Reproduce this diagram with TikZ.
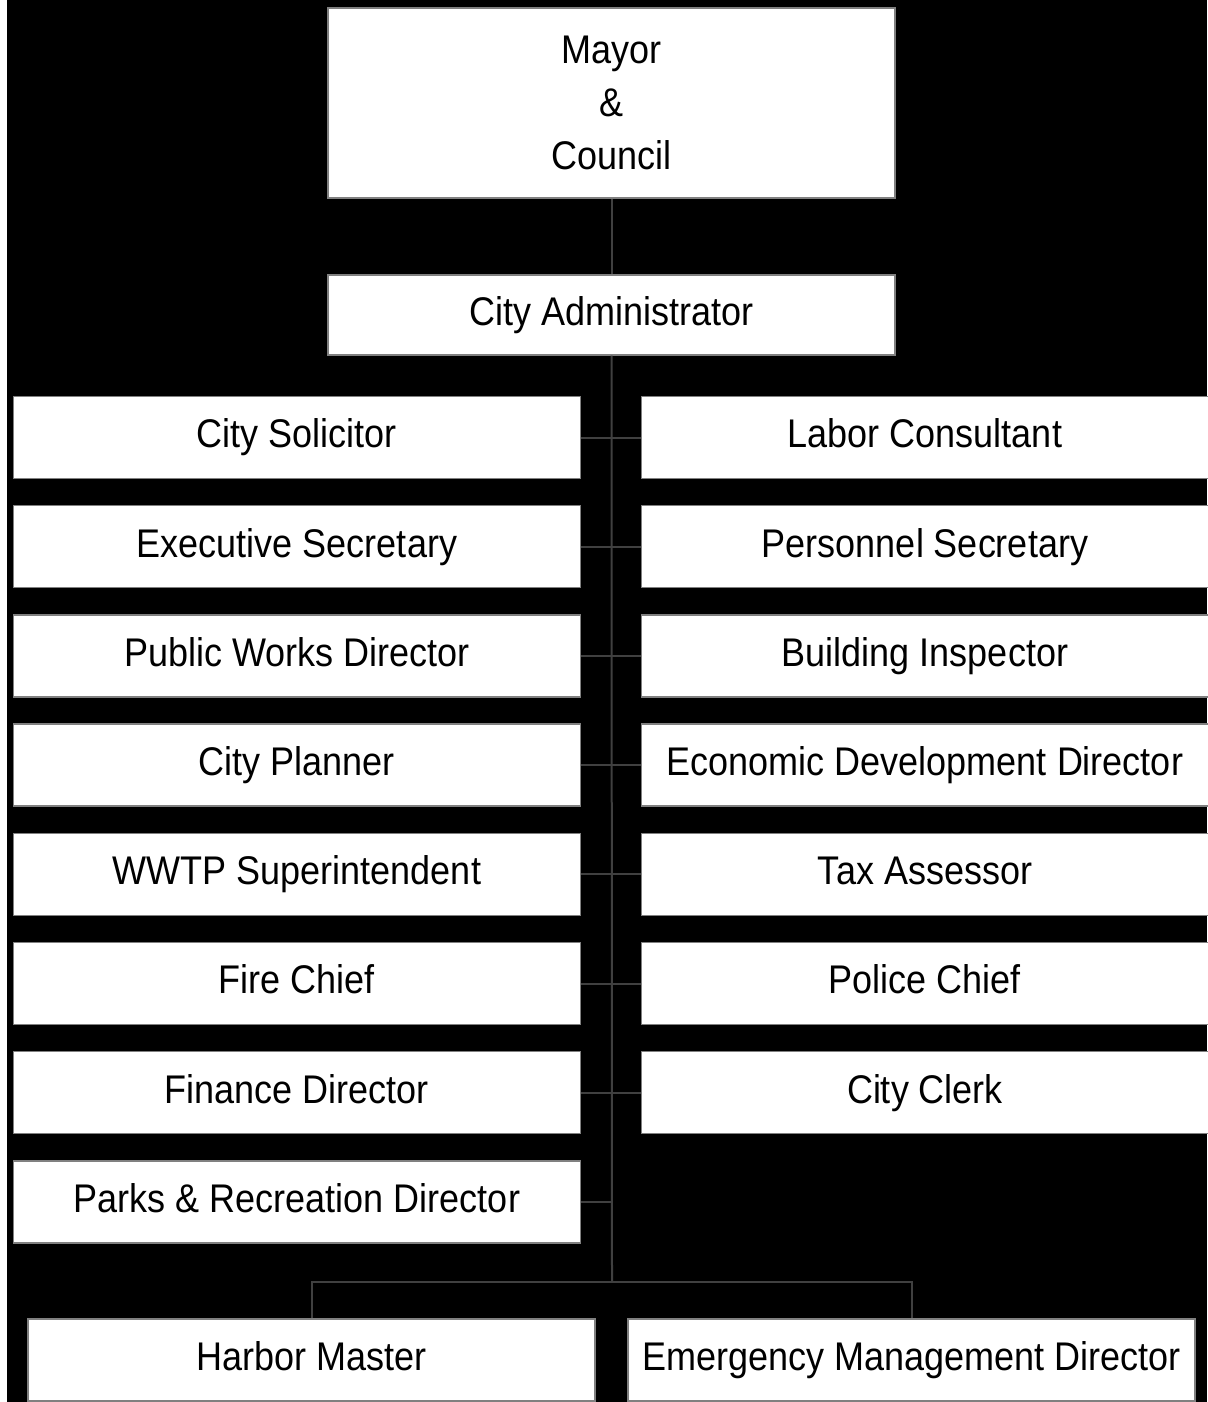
\documentclass[tikz,border=0pt]{standalone}
\usepackage{fontspec}
\setmainfont[FakeStretch=0.9]{Liberation Sans}
\tikzset{
  box/.style={draw={rgb, 255:red, 128; green, 128; blue, 128 }, line width=1.1pt, fill=white, inner sep=0pt, minimum width=425.25pt, font=\fontsize{30}{40}\selectfont, align=center},
  post/.style={box, minimum height=61.5pt, text height=21.5pt, text depth=5.8pt},
  link/.style={draw={rgb, 255:red, 64; green, 64; blue, 64 }, line width=1.5pt}
}
\begin{document}
\begin{tikzpicture}[x=0.75pt,y=0.75pt,yscale=-1,xscale=1]

\useasboundingbox (0,0) rectangle (1207,1402);
\fill [white] (0,0) rectangle (7,1402);
\fill [black] (7,0) rectangle (1207,1402);

% top
\node [box, minimum height=142.5pt] (mayor) at (611.5,103) {Mayor\\\&\\Council};
\node [post, minimum height=60pt] (admin) at (611.5,315) {City Administrator};

% left column
\node [post] (solicitor) at (297,437.5) {City Solicitor};
\node [post] (execsec) at (297,546.7) {Executive Secretary};
\node [post] (publicworks) at (297,655.9) {Public Works Director};
\node [post] (planner) at (297,765.1) {City Planner};
\node [post] (wwtp) at (297,874.3) {WWTP Superintendent};
\node [post] (fire) at (297,983.5) {Fire Chief};
\node [post] (finance) at (297,1092.7) {Finance Director};
\node [post] (parks) at (297,1201.9) {Parks \& Recreation Director};

% right column
\node [post] (labor) at (925,437.5) {Labor Consultant};
\node [post] (personnel) at (925,546.7) {Personnel Secretary};
\node [post] (building) at (925,655.9) {Building Inspector};
\node [post] (econdev) at (925,765.1) {Economic Development Director};
\node [post] (tax) at (925,874.3) {Tax Assessor};
\node [post] (police) at (925,983.5) {Police Chief};
\node [post] (clerk) at (925,1092.7) {City Clerk};

% bottom
\node [post] (harbor) at (311.5,1360) {Harbor Master};
\node [post] (emergency) at (911.5,1360) {Emergency Management Director};

\coordinate (bus) at (612,1281.5);

\draw [link] (mayor.south) -- (admin.north);
\draw [link] (admin.south) -- (bus);
\draw [link] (solicitor.east) -- (labor.west);
\draw [link] (execsec.east) -- (personnel.west);
\draw [link] (publicworks.east) -- (building.west);
\draw [link] (planner.east) -- (econdev.west);
\draw [link] (wwtp.east) -- (tax.west);
\draw [link] (fire.east) -- (police.west);
\draw [link] (finance.east) -- (clerk.west);
\draw [link] (parks.east) -- (parks.east -| bus);
\draw [link] (harbor.north) |- (bus) -| (emergency.north);

\end{tikzpicture}
\end{document}
